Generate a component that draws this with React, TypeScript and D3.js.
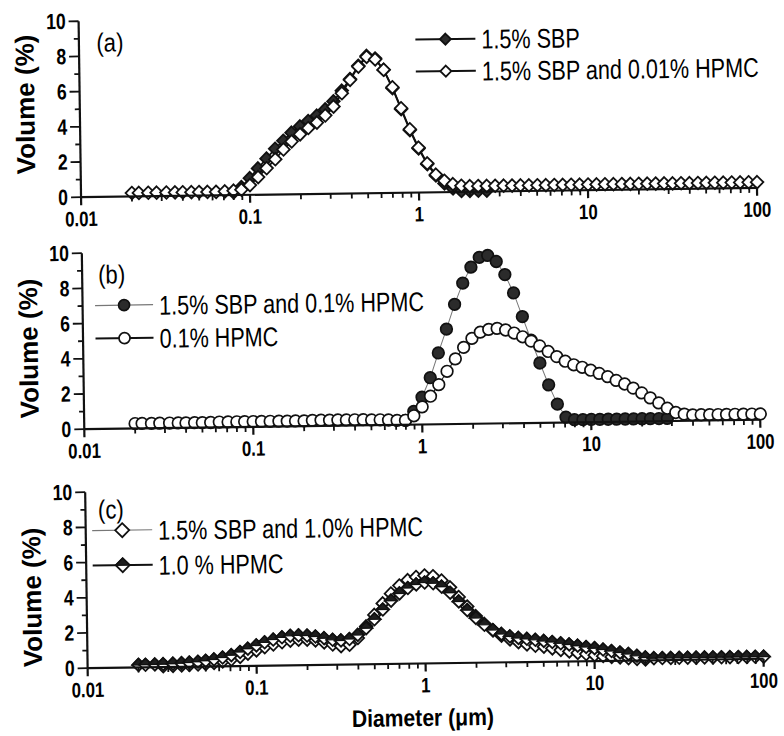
import React, { useEffect, useRef } from "react";
import * as d3 from "d3";

// Particle size bins (um), shared by every curve
const diameters = [
  0.02, 0.022, 0.025, 0.028, 0.032, 0.036, 0.04, 0.045, 0.05, 0.056,
  0.063, 0.071, 0.08, 0.089, 0.1, 0.112, 0.126, 0.142, 0.159, 0.178,
  0.2, 0.224, 0.252, 0.283, 0.317, 0.356, 0.399, 0.448, 0.502, 0.564,
  0.632, 0.71, 0.796, 0.893, 1.002, 1.125, 1.262, 1.416, 1.589, 1.783,
  2.0, 2.244, 2.518, 2.825, 3.17, 3.557, 3.991, 4.477, 5.024, 5.637,
  6.325, 7.096, 7.962, 8.934, 10.024, 11.247, 12.619, 14.159, 15.887, 17.825,
  20.0, 22.44, 25.179, 28.251, 31.698, 35.566, 39.905, 44.774, 50.238, 56.368,
  63.246, 70.963, 79.621, 89.337, 100.237,
];

const n = null;

// (a)
const sbp = [
  n, n, n, n, n, n, n, n, n, n,
  n, n, 0.15, 0.45, 0.95, 1.5, 2.05, 2.6, 3.05, 3.5,
  3.85, 4.15, 4.45, 4.8, 5.25, 5.85, 6.5, 7.25, 7.8, 7.65,
  7.0, 5.95, 4.75, 3.55, 2.5, 1.6, 0.95, 0.5, 0.2, 0.05,
  0.05, 0.05, 0.05, n, n, n, n, n, n, n,
  n, n, n, n, n, n, n, n, n, n,
  n, n, n, n, n, n, n, n, n, n,
  n, n, n, n, n,
];
const sbpHpmc001 = [
  0.2, 0.2, 0.2, 0.2, 0.2, 0.2, 0.2, 0.2, 0.2, 0.2,
  0.2, 0.22, 0.25, 0.3, 0.55, 1.0, 1.5, 2.0, 2.55, 3.0,
  3.4, 3.75, 4.05, 4.45, 4.95, 5.7, 6.45, 7.2, 7.75, 7.6,
  7.0, 6.0, 4.8, 3.6, 2.55, 1.65, 1.0, 0.65, 0.45, 0.35,
  0.32, 0.32, 0.32, 0.32, 0.32, 0.32, 0.32, 0.32, 0.32, 0.32,
  0.32, 0.32, 0.32, 0.32, 0.32, 0.32, 0.32, 0.32, 0.32, 0.32,
  0.32, 0.32, 0.32, 0.32, 0.32, 0.32, 0.32, 0.32, 0.32, 0.32,
  0.32, 0.32, 0.32, 0.32, 0.32,
];

// (b)
const sbpHpmc01 = [
  n, n, n, n, n, n, n, n, n, n,
  n, n, n, n, n, n, n, n, n, n,
  n, n, n, n, n, n, n, n, n, n,
  n, n, 0.25, 0.75, 1.55, 2.65, 4.05, 5.4, 6.8, 8.0,
  8.9, 9.45, 9.55, 9.2, 8.45, 7.4, 6.05, 4.7, 3.4, 2.15,
  1.05, 0.3, 0.15, 0.15, 0.15, 0.15, 0.15, 0.15, 0.15, 0.15,
  0.15, 0.15, 0.15, 0.15, n, n, n, n, n, n,
  n, n, n, n, n,
];
const hpmc01 = [
  0.28, 0.28, 0.28, 0.28, 0.28, 0.28, 0.28, 0.28, 0.28, 0.28,
  0.3, 0.3, 0.3, 0.3, 0.3, 0.3, 0.3, 0.3, 0.3, 0.3,
  0.3, 0.32, 0.32, 0.32, 0.32, 0.32, 0.32, 0.32, 0.3, 0.3,
  0.28, 0.25, 0.25, 0.5, 1.0, 1.6, 2.25, 3.0, 3.7, 4.35,
  4.85, 5.2, 5.35, 5.4, 5.3, 5.12, 4.9, 4.65, 4.37, 4.05,
  3.75, 3.48, 3.27, 3.12, 2.95, 2.76, 2.57, 2.35, 2.14, 1.9,
  1.62, 1.33, 1.04, 0.73, 0.48, 0.38, 0.33, 0.33, 0.33, 0.33,
  0.33, 0.33, 0.33, 0.33, 0.33,
];

// (c)
const sbpHpmc10 = [
  n, n, n, 0.05, 0.06, 0.08, 0.1, 0.12, 0.15, 0.2,
  0.28, 0.38, 0.52, 0.7, 0.88, 1.05, 1.2, 1.32, 1.4, 1.45,
  1.45, 1.4, 1.28, 1.15, 1.05, 1.12, 1.5, 2.15, 2.8, 3.45,
  4.0, 4.45, 4.75, 4.92, 5.0, 4.95, 4.7, 4.3, 3.75, 3.2,
  2.65, 2.2, 1.82, 1.52, 1.3, 1.14, 1.0, 0.92, 0.86, 0.76,
  0.66, 0.57, 0.48, 0.41, 0.34, 0.28, 0.23, 0.19, 0.14, 0.09,
  0.05, n, n, n, n, n, n, n, n, n,
  n, n, n, n, n,
];
const hpmc10 = [
  0.15, 0.15, 0.16, 0.17, 0.19, 0.21, 0.24, 0.28, 0.33, 0.4,
  0.5, 0.63, 0.8, 0.98, 1.16, 1.33, 1.48, 1.6, 1.68, 1.7,
  1.68, 1.62, 1.52, 1.42, 1.38, 1.45, 1.68, 2.05, 2.55, 3.1,
  3.6, 4.0, 4.3, 4.5, 4.6, 4.55, 4.35, 4.0, 3.5, 3.0,
  2.55, 2.15, 1.85, 1.62, 1.47, 1.38, 1.32, 1.26, 1.19, 1.12,
  1.04, 0.97, 0.89, 0.81, 0.74, 0.65, 0.56, 0.47, 0.38, 0.27,
  0.17, 0.12, 0.12, 0.12, 0.12, 0.12, 0.12, 0.12, 0.12, 0.12,
  0.12, 0.12, 0.12, 0.12, 0.12,
];

const xTicks = [0.01, 0.1, 1, 10, 100];
const xTickLabels = ["0.01", "0.1", "1", "10", "100"];
const yTicks = [0, 2, 4, 6, 8, 10];

const sans = "'Liberation Sans', Arial, sans-serif";

const diamond = (r) => `M0,${-r}L${r},0L0,${r}L${-r},0Z`;
const diamondTop = (r) => `M${-r},0L0,${-r}L${r},0Z`;

// no narrow face installed, so squeeze the text horizontally around its anchor
const condense = (sel, k = 0.82) => {
  sel.each(function () {
    const t = d3.select(this);
    const tx = +t.attr("x");
    const ty = +t.attr("y");
    t.attr("x", 0).attr("y", 0).attr("transform", `translate(${tx},${ty}) scale(${k},1)`);
  });
};

const App = () => {
  const svgRef = useRef(null);

  useEffect(() => {
    const svg = d3.select(svgRef.current);
    svg.selectAll("*").remove();

    // the scanned figure is slightly tilted
    const root = svg.append("g").attr("transform", "rotate(-0.8 420 370)");

    const x = d3.scaleLog().domain([0.01, 100]).range([83.5, 759.5]);
    const panelH = 176;

    const drawMarker = (g, kind, r) => {
      if (kind === "circleFilled" || kind === "circleOpen") {
        g.append("circle")
          .attr("r", r)
          .attr("fill", kind === "circleFilled" ? "#2b2b2b" : "#fff")
          .attr("stroke", "#111")
          .attr("stroke-width", 1.7);
      } else {
        g.append("path")
          .attr("d", diamond(r))
          .attr("fill", kind === "diamondFilled" ? "#2b2b2b" : "#fff")
          .attr("stroke", "#111")
          .attr("stroke-width", 1.8);
        if (kind === "diamondHalf") {
          g.append("path").attr("d", diamondTop(r)).attr("fill", "#1e1e1e").attr("stroke", "#111").attr("stroke-width", 1.4);
        }
      }
    };

    const drawPanel = (p) => {
      const y = d3.scaleLinear().domain([0, 10]).range([p.y0, p.y0 - panelH]);
      const g = root.append("g");

      // series
      p.series.forEach((s) => {
        const pts = diameters.map((d, i) => [d, s.values[i]]).filter((q) => q[1] != null);
        g.append("path")
          .datum(pts)
          .attr("fill", "none")
          .attr("stroke", s.line)
          .attr("stroke-width", s.lw)
          .attr("d", d3.line().x((q) => x(q[0])).y((q) => y(q[1])));
        pts.forEach((q) => {
          const m = g.append("g").attr("transform", `translate(${x(q[0])},${y(q[1])})`);
          drawMarker(m, s.marker, s.r);
        });
      });

      // x axis
      const ax = g.append("g").attr("stroke", "#111");
      ax.append("line").attr("x1", x(0.01)).attr("x2", x(100)).attr("y1", p.y0).attr("y2", p.y0).attr("stroke-width", 2.2);
      xTicks.slice(0, -1).forEach((t) => {
        d3.range(2, 10).forEach((k) => {
          ax.append("line").attr("x1", x(t * k)).attr("x2", x(t * k)).attr("y1", p.y0).attr("y2", p.y0 + 5).attr("stroke-width", 1.8);
        });
      });
      xTicks.forEach((t) => {
        ax.append("line").attr("x1", x(t)).attr("x2", x(t)).attr("y1", p.y0).attr("y2", p.y0 + 8).attr("stroke-width", 2.2);
      });
      g.selectAll(".xl")
        .data(xTicks)
        .enter()
        .append("text")
        .attr("x", (t) => x(t))
        .attr("y", p.y0 + 29)
        .attr("text-anchor", "middle")
        .attr("font-family", sans)
        .attr("font-weight", "bold")
        .attr("font-size", 21)
        .text((t, i) => xTickLabels[i])
        .call(condense, 0.8);

      // y axis
      const ay = g.append("g").attr("stroke", "#111");
      ay.append("line").attr("x1", x(0.01)).attr("x2", x(0.01)).attr("y1", p.y0).attr("y2", y(10)).attr("stroke-width", 2.2);
      d3.range(0, 11).forEach((v) => {
        const len = v % 2 === 0 ? 10 : 5;
        ay.append("line").attr("x1", x(0.01) - len).attr("x2", x(0.01)).attr("y1", y(v)).attr("y2", y(v)).attr("stroke-width", 1.8);
      });
      g.selectAll(".yl")
        .data(yTicks)
        .enter()
        .append("text")
        .attr("x", x(0.01) - 13)
        .attr("y", (v) => y(v) + 7.5)
        .attr("text-anchor", "end")
        .attr("font-family", sans)
        .attr("font-weight", "bold")
        .attr("font-size", 22)
        .text((v) => v)
        .call(condense, 0.8);

      // y title
      g.append("text")
        .attr("transform", `translate(38,${p.titleY}) rotate(-90)`)
        .attr("text-anchor", "middle")
        .attr("font-family", sans)
        .attr("font-weight", "bold")
        .attr("font-size", 26)
        .text("Volume (%)");

      // panel tag
      g.append("text")
        .attr("x", p.tag[0])
        .attr("y", p.tag[1])
        .attr("font-family", sans)
        .attr("font-size", 26)
        .text(p.label)
        .call(condense, 0.85);

      // legend
      p.series.forEach((s, i) => {
        const ly = p.legend.y + i * p.legend.dy;
        const lg = g.append("g");
        lg.append("line")
          .attr("x1", p.legend.x1)
          .attr("x2", p.legend.x2)
          .attr("y1", ly)
          .attr("y2", ly)
          .attr("stroke", s.legendLine || s.line)
          .attr("stroke-width", s.legendLw || 2);
        const m = lg.append("g").attr("transform", `translate(${(p.legend.x1 + p.legend.x2) / 2},${ly})`);
        drawMarker(m, s.marker, p.legend.r);
        lg.append("text")
          .attr("x", p.legend.x2 + 6)
          .attr("y", ly + 10)
          .attr("font-family", sans)
          .attr("font-size", 27)
          .text(s.name)
          .call(condense, 0.8);
      });
    };

    drawPanel({
      y0: 192.5,
      titleY: 99,
      label: "(a)",
      tag: [101, 47],
      legend: { x1: 420, x2: 480, y: 39.5, dy: 32, r: 5.5 },
      series: [
        { name: "1.5% SBP", values: sbp, marker: "diamondFilled", r: 6.3, line: "#111", lw: 1.8 },
        { name: "1.5% SBP and 0.01% HPMC", values: sbpHpmc001, marker: "diamondOpen", r: 6.3, line: "#111", lw: 1.8 },
      ],
    });

    drawPanel({
      y0: 424.5,
      titleY: 343,
      label: "(b)",
      tag: [99.5, 279],
      legend: { x1: 96, x2: 154, y: 301, dy: 33, r: 5.5 },
      series: [
        { name: "1.5% SBP and 0.1% HPMC", values: sbpHpmc01, marker: "circleFilled", r: 5.8, line: "#777", lw: 1, legendLine: "#777", legendLw: 1.2 },
        { name: "0.1% HPMC", values: hpmc01, marker: "circleOpen", r: 5.8, line: "#111", lw: 1 },
      ],
    });

    drawPanel({
      y0: 663.5,
      titleY: 592,
      label: "(c)",
      tag: [96, 514],
      legend: { x1: 90, x2: 150, y: 526, dy: 35, r: 7 },
      series: [
        { name: "1.5% SBP and 1.0% HPMC", values: sbpHpmc10, marker: "diamondOpen", r: 6.3, line: "#444", lw: 1, legendLine: "#777", legendLw: 1.2 },
        { name: "1.0 % HPMC", values: hpmc10, marker: "diamondHalf", r: 6.3, line: "#111", lw: 1, legendLw: 2 },
      ],
    });

    // x title
    root
      .append("text")
      .attr("x", 418)
      .attr("y", 726)
      .attr("text-anchor", "middle")
      .attr("font-family", sans)
      .attr("font-weight", "bold")
      .attr("font-size", 24)
      .text("Diameter (\u03bcm)")
      .call(condense, 0.88);
  }, []);

  return (
    <svg
      ref={svgRef}
      width={784}
      height={736}
      style={{ position: "absolute", left: 0, top: 0, background: "#fff" }}
    ></svg>
  );
};

export default App;
